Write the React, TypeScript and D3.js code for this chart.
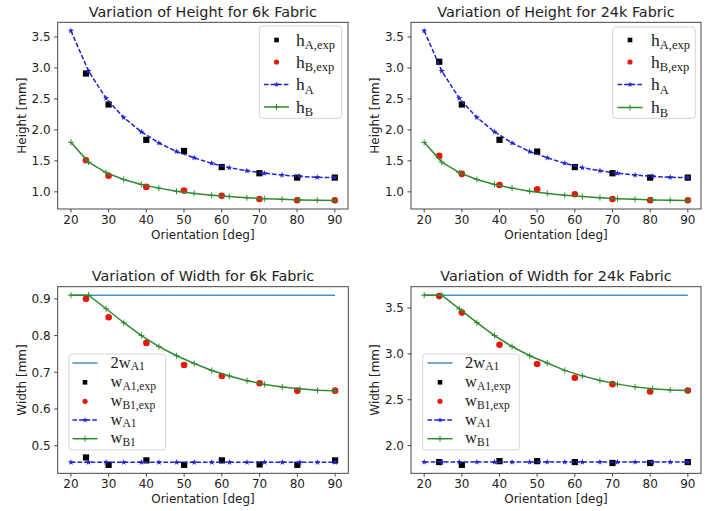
import React from "react";
import * as d3 from "d3";

// ---------- data ----------
const modelAngles = [20, 24.67, 29.33, 34, 38.67, 43.33, 48, 52.67, 57.33, 62, 66.67, 71.33, 76, 80.67, 85.33, 90];
const expAngles = [24, 30, 40, 50, 60, 70, 80, 90];
const lineEndAngles = [20, 90];
const xTicks = [20, 30, 40, 50, 60, 70, 80, 90];

const hAModel = [3.6, 2.95, 2.51, 2.2, 1.97, 1.79, 1.65, 1.55, 1.46, 1.39, 1.34, 1.3, 1.27, 1.25, 1.235, 1.23];
const hBModel = [1.8, 1.48, 1.31, 1.2, 1.12, 1.06, 1.01, 0.975, 0.945, 0.925, 0.905, 0.89, 0.88, 0.87, 0.865, 0.86];

const hAExp6k = [2.91, 2.41, 1.84, 1.66, 1.4, 1.3, 1.23, 1.23];
const hBExp6k = [1.51, 1.26, 1.08, 1.02, 0.935, 0.885, 0.865, 0.865];
const hAExp24k = [3.1, 2.41, 1.84, 1.65, 1.4, 1.3, 1.23, 1.23];
const hBExp24k = [1.58, 1.29, 1.11, 1.04, 0.96, 0.885, 0.865, 0.865];

const twoWA16k = [0.91, 0.91];
const wA1Model6k = [0.455, 0.455, 0.455, 0.455, 0.455, 0.455, 0.455, 0.455, 0.455, 0.455, 0.455, 0.455, 0.455, 0.455, 0.455, 0.455];
const wB1Model6k = [0.91, 0.91, 0.873, 0.835, 0.8, 0.77, 0.745, 0.724, 0.705, 0.69, 0.677, 0.667, 0.66, 0.655, 0.651, 0.65];
const wA1Exp6k = [0.468, 0.448, 0.46, 0.448, 0.46, 0.449, 0.448, 0.46];
const wB1Exp6k = [0.9, 0.85, 0.78, 0.72, 0.69, 0.67, 0.65, 0.65];

const twoWA124k = [3.64, 3.64];
const wA1Model24k = [1.82, 1.82, 1.82, 1.82, 1.82, 1.82, 1.82, 1.82, 1.82, 1.82, 1.82, 1.82, 1.82, 1.82, 1.82, 1.82];
const wB1Model24k = [3.64, 3.64, 3.49, 3.34, 3.2, 3.08, 2.98, 2.9, 2.82, 2.76, 2.71, 2.67, 2.64, 2.62, 2.605, 2.6];
const wA1Exp24k = [1.82, 1.79, 1.83, 1.83, 1.82, 1.81, 1.81, 1.82];
const wB1Exp24k = [3.63, 3.45, 3.1, 2.89, 2.74, 2.67, 2.59, 2.6];

const heightTicks = [1.0, 1.5, 2.0, 2.5, 3.0, 3.5];
const width6kTicks = [0.5, 0.6, 0.7, 0.8, 0.9];
const width24kTicks = [2.0, 2.5, 3.0, 3.5];

// ---------- styles ----------
const BLUE = "#2222cc";
const GREEN = "#2e8b2e";
const RED = "#e8160c";
const BLACK = "#000";
const STEEL = "#4a8fc2";
const AXIS = "#333";
const TEXT = "#222";
const SANS = "DejaVu Sans";
const SERIF = "Liberation Serif";

type Kind = "square" | "circle" | "dashStar" | "linePlus" | "line";
interface Series {
  kind: Kind;
  xs: number[];
  ys: number[];
  main: string;
  sub: string;
}
interface Frame { x0: number; x1: number; y0: number; y1: number; }
interface LegendCfg {
  x0: number; x1: number; y0: number; y1: number; rows: number[]; h0: number; h1: number; tx: number;
  fs: number; sfs: number; dy: number; base: number;
}

function Marker({ kind, x, y, small }: { kind: Kind; x: number; y: number; small?: boolean }) {
  if (kind === "square") {
    const s = small ? 4.6 : 6.2;
    return <rect x={x - s / 2} y={y - s / 2} width={s} height={s} fill={BLACK} />;
  }
  if (kind === "circle") {
    return <circle cx={x} cy={y} r={small ? 2.6 : 3.3} fill={RED} />;
  }
  if (kind === "dashStar") {
    const p = d3.symbol().type(d3.symbolStar).size(small ? 10 : 12)();
    return <path d={p || ""} transform={`translate(${x},${y})`} fill={BLUE} />;
  }
  if (kind === "linePlus") {
    const a = 3;
    return <path d={`M${x - a},${y}H${x + a}M${x},${y - a}V${y + a}`} stroke={GREEN} strokeWidth={1} fill="none" />;
  }
  return null;
}

function lineStyle(kind: Kind) {
  if (kind === "dashStar") return { stroke: BLUE, dash: "4.6,2" };
  if (kind === "linePlus") return { stroke: GREEN, dash: undefined };
  return { stroke: STEEL, dash: undefined };
}

function Panel({ frame, title, ylabel, yTicks, series, legend, fmt }: {
  frame: Frame; title: string; ylabel: string; yTicks: number[]; series: Series[]; legend: LegendCfg; fmt: (v: number) => string;
}) {
  const allX = series.flatMap((s) => s.xs);
  const allY = series.flatMap((s) => s.ys);
  const [xmin, xmax] = d3.extent(allX) as [number, number];
  const [ymin, ymax] = d3.extent(allY) as [number, number];
  const px = (xmax - xmin) * 0.05;
  const py = (ymax - ymin) * 0.05;
  const x = d3.scaleLinear().domain([xmin - px, xmax + px]).range([frame.x0, frame.x1]);
  const y = d3.scaleLinear().domain([ymin - py, ymax + py]).range([frame.y1, frame.y0]);
  const cx = (frame.x0 + frame.x1) / 2;
  const cy = (frame.y0 + frame.y1) / 2;
  const clipId = `clip-${Math.round(frame.x0)}-${Math.round(frame.y0)}`;

  return (
    <g>
      <defs>
        <clipPath id={clipId}>
          <rect x={frame.x0} y={frame.y0} width={frame.x1 - frame.x0} height={frame.y1 - frame.y0} />
        </clipPath>
      </defs>
      <g clipPath={`url(#${clipId})`}>
        {series.map((s, si) => {
          const pts = s.xs.map((xv, i) => [x(xv), y(s.ys[i])] as [number, number]);
          if (s.kind === "square" || s.kind === "circle") {
            return (
              <g key={si}>
                {pts.map((p, i) => <Marker key={i} kind={s.kind} x={p[0]} y={p[1]} />)}
              </g>
            );
          }
          const st = lineStyle(s.kind);
          const d = d3.line<[number, number]>().x((p) => p[0]).y((p) => p[1])(pts) || "";
          return (
            <g key={si}>
              <path d={d} fill="none" stroke={st.stroke} strokeWidth={1.5} strokeDasharray={st.dash} />
              {pts.map((p, i) => <Marker key={i} kind={s.kind} x={p[0]} y={p[1]} />)}
            </g>
          );
        })}
      </g>
      <rect x={frame.x0} y={frame.y0} width={frame.x1 - frame.x0} height={frame.y1 - frame.y0} fill="none" stroke={AXIS} strokeWidth={0.9} />
      {xTicks.map((t) => (
        <g key={`x${t}`}>
          <line x1={x(t)} x2={x(t)} y1={frame.y1} y2={frame.y1 + 3.5} stroke={AXIS} strokeWidth={0.9} />
          <text x={x(t)} y={frame.y1 + 14.5} textAnchor="middle" fontFamily={SANS} fontSize={12} fill={TEXT}>{t}</text>
        </g>
      ))}
      {yTicks.map((t) => (
        <g key={`y${t}`}>
          <line x1={frame.x0 - 3.5} x2={frame.x0} y1={y(t)} y2={y(t)} stroke={AXIS} strokeWidth={0.9} />
          <text x={frame.x0 - 7} y={y(t) + 4.3} textAnchor="end" fontFamily={SANS} fontSize={12} fill={TEXT}>{fmt(t)}</text>
        </g>
      ))}
      <text x={cx} y={frame.y0 - 5.3} textAnchor="middle" fontFamily={SANS} fontSize={14.4} fill={TEXT}>{title}</text>
      <text x={cx} y={frame.y1 + 30} textAnchor="middle" fontFamily={SANS} fontSize={12} fill={TEXT}>Orientation [deg]</text>
      <text transform={`translate(${frame.x0 - 32},${cy}) rotate(-90)`} textAnchor="middle" fontFamily={SANS} fontSize={12} fill={TEXT}>{ylabel}</text>
      <g>
        <rect x={legend.x0} y={legend.y0} width={legend.x1 - legend.x0} height={legend.y1 - legend.y0} rx={3} fill="#fff" fillOpacity={0.8} stroke="#d0d0d0" strokeWidth={0.9} />
        {series.map((s, i) => {
          const ry = legend.rows[i];
          const hm = (legend.h0 + legend.h1) / 2;
          const isLine = s.kind === "dashStar" || s.kind === "linePlus" || s.kind === "line";
          const st = lineStyle(s.kind);
          return (
            <g key={`l${i}`}>
              {isLine && <line x1={legend.h0} x2={legend.h1} y1={ry} y2={ry} stroke={st.stroke} strokeWidth={1.5} strokeDasharray={st.dash} />}
              <Marker kind={s.kind} x={hm} y={ry} small />
              <text x={legend.tx} y={ry + legend.base} fontFamily={SERIF} fontSize={legend.fs} fill={TEXT}>
                <tspan>{s.main}</tspan>
                <tspan fontSize={legend.sfs} dy={legend.dy}>{s.sub}</tspan>
              </text>
            </g>
          );
        })}
      </g>
    </g>
  );
}

export default function App() {
  const f1 = (v: number) => v.toFixed(1);
  const topSeries6k: Series[] = [
    { kind: "square", xs: expAngles, ys: hAExp6k, main: "h", sub: "A,exp" },
    { kind: "circle", xs: expAngles, ys: hBExp6k, main: "h", sub: "B,exp" },
    { kind: "dashStar", xs: modelAngles, ys: hAModel, main: "h", sub: "A" },
    { kind: "linePlus", xs: modelAngles, ys: hBModel, main: "h", sub: "B" },
  ];
  const topSeries24k: Series[] = [
    { kind: "square", xs: expAngles, ys: hAExp24k, main: "h", sub: "A,exp" },
    { kind: "circle", xs: expAngles, ys: hBExp24k, main: "h", sub: "B,exp" },
    { kind: "dashStar", xs: modelAngles, ys: hAModel, main: "h", sub: "A" },
    { kind: "linePlus", xs: modelAngles, ys: hBModel, main: "h", sub: "B" },
  ];
  const botSeries6k: Series[] = [
    { kind: "line", xs: lineEndAngles, ys: twoWA16k, main: "2w", sub: "A1" },
    { kind: "square", xs: expAngles, ys: wA1Exp6k, main: "w", sub: "A1,exp" },
    { kind: "circle", xs: expAngles, ys: wB1Exp6k, main: "w", sub: "B1,exp" },
    { kind: "dashStar", xs: modelAngles, ys: wA1Model6k, main: "w", sub: "A1" },
    { kind: "linePlus", xs: modelAngles, ys: wB1Model6k, main: "w", sub: "B1" },
  ];
  const botSeries24k: Series[] = [
    { kind: "line", xs: lineEndAngles, ys: twoWA124k, main: "2w", sub: "A1" },
    { kind: "square", xs: expAngles, ys: wA1Exp24k, main: "w", sub: "A1,exp" },
    { kind: "circle", xs: expAngles, ys: wB1Exp24k, main: "w", sub: "B1,exp" },
    { kind: "dashStar", xs: modelAngles, ys: wA1Model24k, main: "w", sub: "A1" },
    { kind: "linePlus", xs: modelAngles, ys: wB1Model24k, main: "w", sub: "B1" },
  ];
  const botRows = [363, 382.3, 401.3, 420, 438.7];
  const topText = { fs: 17.5, sfs: 12.5, dy: 3.5, base: 5.5 };
  const botText = { fs: 16.5, sfs: 11.5, dy: 2.8, base: 4.6 };
  return (
    <svg width={712} height={511} style={{ position: "absolute", left: 0, top: 0, background: "#fff" }}>
      <rect width={712} height={511} fill="#fff" />
      <Panel frame={{ x0: 57.7, x1: 348, y0: 22.3, y1: 209 }} title="Variation of Height for 6k Fabric" ylabel="Height [mm]"
        yTicks={heightTicks} series={topSeries6k} fmt={f1}
        legend={{ x0: 259.3, x1: 341.7, y0: 26, y1: 118.3, rows: [40, 62, 84.5, 107], h0: 264, h1: 289, tx: 296, ...topText }} />
      <Panel frame={{ x0: 411, x1: 701, y0: 22.3, y1: 209 }} title="Variation of Height for 24k Fabric" ylabel="Height [mm]"
        yTicks={heightTicks} series={topSeries24k} fmt={f1}
        legend={{ x0: 612.7, x1: 695.3, y0: 27, y1: 118.3, rows: [40, 62, 84.5, 107.5], h0: 617.5, h1: 642.5, tx: 651, ...topText }} />
      <Panel frame={{ x0: 57.7, x1: 348.3, y0: 286.7, y1: 473.3 }} title="Variation of Width for 6k Fabric" ylabel="Width [mm]"
        yTicks={width6kTicks} series={botSeries6k} fmt={f1}
        legend={{ x0: 69, x1: 165.7, y0: 354, y1: 450, rows: botRows, h0: 72.5, h1: 97.5, tx: 110.5, ...botText }} />
      <Panel frame={{ x0: 411, x1: 701, y0: 286.7, y1: 473.3 }} title="Variation of Width for 24k Fabric" ylabel="Width [mm]"
        yTicks={width24kTicks} series={botSeries24k} fmt={f1}
        legend={{ x0: 422.7, x1: 519.3, y0: 354, y1: 450, rows: botRows, h0: 427.5, h1: 452.5, tx: 465, ...botText }} />
    </svg>
  );
}
